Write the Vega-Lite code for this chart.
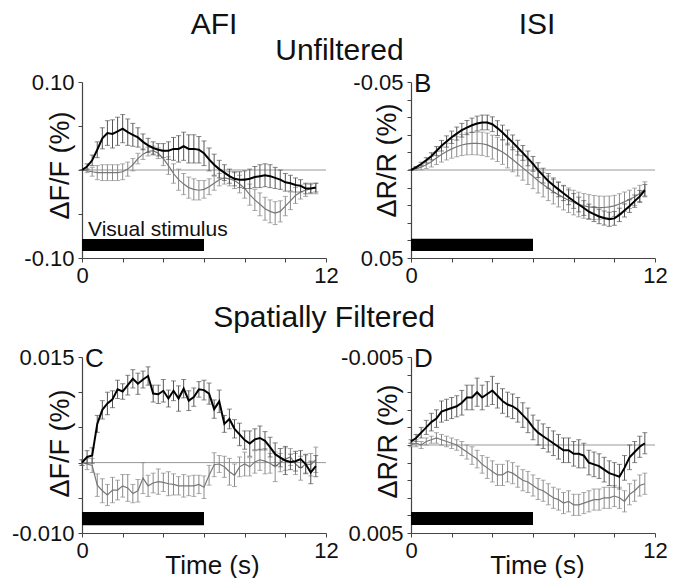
{
  "$schema": "https://vega.github.io/schema/vega-lite/v6.json",
  "padding": {"left": 11, "top": 10, "right": 5, "bottom": 0},
  "background": "white",
  "title": {"text": "Unfiltered", "frame": "bounds", "offset": -56, "anchor": "middle", "dx": 0},
  "columns": 2,
  "bounds": "flush",
  "spacing": {"row": 99, "column": 85},
  "config": {
    "font": "Liberation Sans",
    "view": {"stroke": null},
    "axis": {"grid": false, "domainColor": "#444", "tickColor": "#444", "tickSize": 4, "labelFontSize": 22, "labelColor": "#111", "titleFontSize": 27, "titleFontWeight": "normal", "titleColor": "#111", "labelPadding": 3, "domainWidth": 1.2, "labelFlush": false, "labelOverlap": false},
    "axisY": {"labelPadding": 4, "titleAngle": 270, "titleBaseline": "bottom", "titleAlign": "center"},
    "title": {"fontSize": 30, "fontWeight": "normal", "color": "#111", "frame": "group", "baseline": "alphabetic", "anchor": "middle"}
  },
  "datasets": {
    "A": [
      {"t":0,"gv":0,"ge":0,"kv":0,"ke":0},
      {"t":0.25,"gv":-0.001,"ge":0.002,"kv":0.004,"ke":0.003},
      {"t":0.5,"gv":-0.002,"ge":0.005,"kv":0.011,"ke":0.006},
      {"t":0.75,"gv":-0.003,"ge":0.008,"kv":0.023,"ke":0.009},
      {"t":1,"gv":-0.003,"ge":0.009,"kv":0.036,"ke":0.012},
      {"t":1.25,"gv":-0.003,"ge":0.009,"kv":0.042,"ke":0.014},
      {"t":1.5,"gv":-0.003,"ge":0.009,"kv":0.041,"ke":0.016},
      {"t":1.75,"gv":-0.003,"ge":0.009,"kv":0.044,"ke":0.016},
      {"t":2,"gv":-0.002,"ge":0.009,"kv":0.047,"ke":0.016},
      {"t":2.25,"gv":0.001,"ge":0.008,"kv":0.043,"ke":0.015},
      {"t":2.5,"gv":0.006,"ge":0.007,"kv":0.040,"ke":0.013},
      {"t":2.75,"gv":0.013,"ge":0.006,"kv":0.037,"ke":0.011},
      {"t":3,"gv":0.018,"ge":0.006,"kv":0.032,"ke":0.009},
      {"t":3.25,"gv":0.021,"ge":0.005,"kv":0.028,"ke":0.008},
      {"t":3.5,"gv":0.022,"ge":0.005,"kv":0.025,"ke":0.007},
      {"t":3.75,"gv":0.019,"ge":0.006,"kv":0.023,"ke":0.007},
      {"t":4,"gv":0.013,"ge":0.008,"kv":0.022,"ke":0.008},
      {"t":4.25,"gv":0.005,"ge":0.010,"kv":0.022,"ke":0.010},
      {"t":4.5,"gv":-0.004,"ge":0.011,"kv":0.024,"ke":0.013},
      {"t":4.75,"gv":-0.011,"ge":0.012,"kv":0.024,"ke":0.015},
      {"t":5,"gv":-0.016,"ge":0.012,"kv":0.027,"ke":0.016},
      {"t":5.25,"gv":-0.020,"ge":0.012,"kv":0.024,"ke":0.016},
      {"t":5.5,"gv":-0.022,"ge":0.012,"kv":0.024,"ke":0.016},
      {"t":5.75,"gv":-0.023,"ge":0.011,"kv":0.023,"ke":0.015},
      {"t":6,"gv":-0.022,"ge":0.010,"kv":0.019,"ke":0.014},
      {"t":6.25,"gv":-0.019,"ge":0.009,"kv":0.012,"ke":0.013},
      {"t":6.5,"gv":-0.015,"ge":0.008,"kv":0.006,"ke":0.012},
      {"t":6.75,"gv":-0.011,"ge":0.007,"kv":0.001,"ke":0.010},
      {"t":7,"gv":-0.009,"ge":0.007,"kv":-0.003,"ke":0.009},
      {"t":7.25,"gv":-0.010,"ge":0.008,"kv":-0.007,"ke":0.008},
      {"t":7.5,"gv":-0.012,"ge":0.009,"kv":-0.010,"ke":0.008},
      {"t":7.75,"gv":-0.016,"ge":0.010,"kv":-0.011,"ke":0.009},
      {"t":8,"gv":-0.021,"ge":0.011,"kv":-0.011,"ke":0.010},
      {"t":8.25,"gv":-0.028,"ge":0.012,"kv":-0.010,"ke":0.011},
      {"t":8.5,"gv":-0.034,"ge":0.012,"kv":-0.008,"ke":0.012},
      {"t":8.75,"gv":-0.039,"ge":0.013,"kv":-0.007,"ke":0.013},
      {"t":9,"gv":-0.044,"ge":0.013,"kv":-0.006,"ke":0.013},
      {"t":9.25,"gv":-0.047,"ge":0.013,"kv":-0.007,"ke":0.013},
      {"t":9.5,"gv":-0.049,"ge":0.013,"kv":-0.009,"ke":0.012},
      {"t":9.75,"gv":-0.047,"ge":0.012,"kv":-0.011,"ke":0.011},
      {"t":10,"gv":-0.041,"ge":0.011,"kv":-0.014,"ke":0.010},
      {"t":10.25,"gv":-0.035,"ge":0.010,"kv":-0.015,"ke":0.009},
      {"t":10.5,"gv":-0.029,"ge":0.009,"kv":-0.017,"ke":0.008},
      {"t":10.75,"gv":-0.025,"ge":0.008,"kv":-0.018,"ke":0.007},
      {"t":11,"gv":-0.023,"ge":0.007,"kv":-0.021,"ke":0.006},
      {"t":11.25,"gv":-0.021,"ge":0.006,"kv":-0.021,"ke":0.005},
      {"t":11.5,"gv":-0.021,"ge":0.006,"kv":-0.020,"ke":0.005}
    ],
    "B": [
      {"t":0,"gv":0,"ge":0,"kv":0,"ke":0},
      {"t":0.25,"gv":-0.0007,"ge":0.0008,"kv":-0.0015,"ke":0.0005},
      {"t":0.5,"gv":-0.0016,"ge":0.0015,"kv":-0.0034,"ke":0.001},
      {"t":0.75,"gv":-0.003,"ge":0.0022,"kv":-0.0055,"ke":0.0015},
      {"t":1,"gv":-0.0047,"ge":0.003,"kv":-0.0078,"ke":0.002},
      {"t":1.25,"gv":-0.0068,"ge":0.0037,"kv":-0.0108,"ke":0.0025},
      {"t":1.5,"gv":-0.0088,"ge":0.0043,"kv":-0.0138,"ke":0.003},
      {"t":1.75,"gv":-0.0105,"ge":0.0048,"kv":-0.0162,"ke":0.0032},
      {"t":2,"gv":-0.012,"ge":0.0053,"kv":-0.0186,"ke":0.0035},
      {"t":2.25,"gv":-0.0132,"ge":0.0057,"kv":-0.0207,"ke":0.0037},
      {"t":2.5,"gv":-0.0142,"ge":0.006,"kv":-0.0226,"ke":0.0039},
      {"t":2.75,"gv":-0.0148,"ge":0.0062,"kv":-0.0241,"ke":0.004},
      {"t":3,"gv":-0.0151,"ge":0.0064,"kv":-0.0254,"ke":0.0041},
      {"t":3.25,"gv":-0.0151,"ge":0.0065,"kv":-0.0264,"ke":0.0042},
      {"t":3.5,"gv":-0.0149,"ge":0.0066,"kv":-0.027,"ke":0.0042},
      {"t":3.75,"gv":-0.0143,"ge":0.0067,"kv":-0.027,"ke":0.0042},
      {"t":4,"gv":-0.013,"ge":0.0068,"kv":-0.026,"ke":0.0042},
      {"t":4.25,"gv":-0.0117,"ge":0.0069,"kv":-0.0238,"ke":0.0042},
      {"t":4.5,"gv":-0.0102,"ge":0.007,"kv":-0.0213,"ke":0.0042},
      {"t":4.75,"gv":-0.0082,"ge":0.007,"kv":-0.0185,"ke":0.0042},
      {"t":5,"gv":-0.006,"ge":0.007,"kv":-0.0157,"ke":0.0042},
      {"t":5.25,"gv":-0.0036,"ge":0.007,"kv":-0.0127,"ke":0.0042},
      {"t":5.5,"gv":-0.0012,"ge":0.007,"kv":-0.0097,"ke":0.0042},
      {"t":5.75,"gv":0.0012,"ge":0.007,"kv":-0.0066,"ke":0.0042},
      {"t":6,"gv":0.0036,"ge":0.007,"kv":-0.0035,"ke":0.0042},
      {"t":6.25,"gv":0.0061,"ge":0.007,"kv":0.0001,"ke":0.0042},
      {"t":6.5,"gv":0.0083,"ge":0.007,"kv":0.0032,"ke":0.0042},
      {"t":6.75,"gv":0.0104,"ge":0.007,"kv":0.0062,"ke":0.0042},
      {"t":7,"gv":0.0123,"ge":0.007,"kv":0.0087,"ke":0.0042},
      {"t":7.25,"gv":0.014,"ge":0.007,"kv":0.011,"ke":0.0042},
      {"t":7.5,"gv":0.0157,"ge":0.007,"kv":0.0132,"ke":0.0042},
      {"t":7.75,"gv":0.0172,"ge":0.007,"kv":0.0155,"ke":0.0042},
      {"t":8,"gv":0.0185,"ge":0.007,"kv":0.0176,"ke":0.0042},
      {"t":8.25,"gv":0.0196,"ge":0.007,"kv":0.0196,"ke":0.0042},
      {"t":8.5,"gv":0.0204,"ge":0.007,"kv":0.0216,"ke":0.0042},
      {"t":8.75,"gv":0.021,"ge":0.007,"kv":0.0236,"ke":0.0042},
      {"t":9,"gv":0.0213,"ge":0.0068,"kv":0.0251,"ke":0.0042},
      {"t":9.25,"gv":0.0214,"ge":0.0066,"kv":0.0264,"ke":0.0041},
      {"t":9.5,"gv":0.0213,"ge":0.0064,"kv":0.0273,"ke":0.004},
      {"t":9.75,"gv":0.021,"ge":0.0062,"kv":0.028,"ke":0.004},
      {"t":10,"gv":0.0204,"ge":0.006,"kv":0.0275,"ke":0.0039},
      {"t":10.25,"gv":0.0193,"ge":0.0058,"kv":0.0255,"ke":0.0038},
      {"t":10.5,"gv":0.018,"ge":0.0055,"kv":0.023,"ke":0.0037},
      {"t":10.75,"gv":0.0167,"ge":0.0052,"kv":0.0205,"ke":0.0036},
      {"t":11,"gv":0.0152,"ge":0.0049,"kv":0.0177,"ke":0.0035},
      {"t":11.25,"gv":0.0133,"ge":0.0046,"kv":0.015,"ke":0.0034},
      {"t":11.5,"gv":0.011,"ge":0.0043,"kv":0.0115,"ke":0.0033}
    ],
    "C": [
      {"t":0,"gv":0,"ge":0.0004,"kv":0,"ke":0.0004},
      {"t":0.25,"gv":-0.0002,"ge":0.0008,"kv":0.0008,"ke":0.0009},
      {"t":0.5,"gv":-0.0004,"ge":0.001,"kv":0.001,"ke":0.0011},
      {"t":0.75,"gv":-0.0032,"ge":0.0016,"kv":0.0055,"ke":0.0012},
      {"t":1,"gv":-0.004,"ge":0.0017,"kv":0.0075,"ke":0.0013},
      {"t":1.25,"gv":-0.0046,"ge":0.0015,"kv":0.0084,"ke":0.0016},
      {"t":1.5,"gv":-0.0039,"ge":0.0018,"kv":0.009,"ke":0.0012},
      {"t":1.75,"gv":-0.0039,"ge":0.0014,"kv":0.0104,"ke":0.0013},
      {"t":2,"gv":-0.0033,"ge":0.0016,"kv":0.0101,"ke":0.0011},
      {"t":2.25,"gv":-0.0036,"ge":0.0019,"kv":0.011,"ke":0.0014},
      {"t":2.5,"gv":-0.0044,"ge":0.0013,"kv":0.0119,"ke":0.0013},
      {"t":2.75,"gv":-0.004,"ge":0.0016,"kv":0.0112,"ke":0.0015},
      {"t":3,"gv":-0.0022,"ge":0.0022,"kv":0.0118,"ke":0.0012},
      {"t":3.25,"gv":-0.0033,"ge":0.0015,"kv":0.0123,"ke":0.0013},
      {"t":3.5,"gv":-0.0029,"ge":0.0014,"kv":0.0098,"ke":0.0012},
      {"t":3.75,"gv":-0.0027,"ge":0.0018,"kv":0.0097,"ke":0.0013},
      {"t":4,"gv":-0.0028,"ge":0.0013,"kv":0.0102,"ke":0.0016},
      {"t":4.25,"gv":-0.003,"ge":0.0017,"kv":0.0091,"ke":0.0012},
      {"t":4.5,"gv":-0.0031,"ge":0.0015,"kv":0.0102,"ke":0.0014},
      {"t":4.75,"gv":-0.0033,"ge":0.0013,"kv":0.0091,"ke":0.0018},
      {"t":5,"gv":-0.0033,"ge":0.0016,"kv":0.0105,"ke":0.0013},
      {"t":5.25,"gv":-0.0033,"ge":0.0014,"kv":0.0088,"ke":0.0014},
      {"t":5.5,"gv":-0.0033,"ge":0.0015,"kv":0.0093,"ke":0.0013},
      {"t":5.75,"gv":-0.0031,"ge":0.0013,"kv":0.0104,"ke":0.0011},
      {"t":6,"gv":-0.0035,"ge":0.0016,"kv":0.0103,"ke":0.0014},
      {"t":6.25,"gv":-0.0018,"ge":0.0014,"kv":0.0098,"ke":0.0015},
      {"t":6.5,"gv":-0.0003,"ge":0.0017,"kv":0.0076,"ke":0.0013},
      {"t":6.75,"gv":-0.0002,"ge":0.0012,"kv":0.0087,"ke":0.0016},
      {"t":7,"gv":-0.0006,"ge":0.0015,"kv":0.0055,"ke":0.0012},
      {"t":7.25,"gv":-0.0013,"ge":0.0019,"kv":0.0062,"ke":0.0014},
      {"t":7.5,"gv":-0.0018,"ge":0.0016,"kv":0.0048,"ke":0.0013},
      {"t":7.75,"gv":-0.0006,"ge":0.0014,"kv":0.004,"ke":0.0016},
      {"t":8,"gv":-0.0002,"ge":0.0017,"kv":0.0032,"ke":0.0013},
      {"t":8.25,"gv":-0.0006,"ge":0.0013,"kv":0.0027,"ke":0.0018},
      {"t":8.5,"gv":0.0001,"ge":0.0016,"kv":0.0033,"ke":0.0015},
      {"t":8.75,"gv":0.0004,"ge":0.0015,"kv":0.0035,"ke":0.0017},
      {"t":9,"gv":0.0002,"ge":0.0018,"kv":0.0031,"ke":0.0013},
      {"t":9.25,"gv":-0.0001,"ge":0.0014,"kv":0.0022,"ke":0.0014},
      {"t":9.5,"gv":-0.0006,"ge":0.0021,"kv":0.0012,"ke":0.0016},
      {"t":9.75,"gv":0,"ge":0.0013,"kv":0.0007,"ke":0.0013},
      {"t":10,"gv":0.0005,"ge":0.0016,"kv":0.0003,"ke":0.002},
      {"t":10.25,"gv":0.0008,"ge":0.0012,"kv":0.0001,"ke":0.0011},
      {"t":10.5,"gv":-0.0002,"ge":0.0015,"kv":0.0002,"ke":0.0014},
      {"t":10.75,"gv":-0.0008,"ge":0.0017,"kv":0.0005,"ke":0.0012},
      {"t":11,"gv":-0.0002,"ge":0.0014,"kv":-0.0002,"ke":0.0013},
      {"t":11.25,"gv":-0.0003,"ge":0.0016,"kv":-0.0014,"ke":0.0016},
      {"t":11.5,"gv":0.0004,"ge":0.0018,"kv":-0.0005,"ke":0.0015}
    ],
    "D": [
      {"t":0,"gv":0,"ge":0.0001,"kv":-0.0002,"ke":0.0001},
      {"t":0.25,"gv":-0.0001,"ge":0.0002,"kv":-0.0004,"ke":0.0002},
      {"t":0.5,"gv":0,"ge":0.0002,"kv":-0.0007,"ke":0.0003},
      {"t":0.75,"gv":-0.0002,"ge":0.0002,"kv":-0.001,"ke":0.0004},
      {"t":1,"gv":-0.0003,"ge":0.0002,"kv":-0.0013,"ke":0.0005},
      {"t":1.25,"gv":-0.0004,"ge":0.0003,"kv":-0.0015,"ke":0.0005},
      {"t":1.5,"gv":-0.0003,"ge":0.0003,"kv":-0.0019,"ke":0.0006},
      {"t":1.75,"gv":-0.0002,"ge":0.0003,"kv":-0.002,"ke":0.0006},
      {"t":2,"gv":-0.0001,"ge":0.0003,"kv":-0.0021,"ke":0.0006},
      {"t":2.25,"gv":0,"ge":0.0003,"kv":-0.0022,"ke":0.0006},
      {"t":2.5,"gv":0.0002,"ge":0.0004,"kv":-0.0024,"ke":0.0007},
      {"t":2.75,"gv":0.0004,"ge":0.0004,"kv":-0.0027,"ke":0.0007},
      {"t":3,"gv":0.0006,"ge":0.0005,"kv":-0.0027,"ke":0.0007},
      {"t":3.25,"gv":0.0008,"ge":0.0005,"kv":-0.003,"ke":0.0008},
      {"t":3.5,"gv":0.0011,"ge":0.0005,"kv":-0.0027,"ke":0.0007},
      {"t":3.75,"gv":0.0013,"ge":0.0006,"kv":-0.0029,"ke":0.0007},
      {"t":4,"gv":0.0015,"ge":0.0006,"kv":-0.0031,"ke":0.0008},
      {"t":4.25,"gv":0.0017,"ge":0.0006,"kv":-0.0028,"ke":0.0007},
      {"t":4.5,"gv":0.0017,"ge":0.0006,"kv":-0.0025,"ke":0.0007},
      {"t":4.75,"gv":0.0015,"ge":0.0006,"kv":-0.0023,"ke":0.0007},
      {"t":5,"gv":0.0016,"ge":0.0006,"kv":-0.0022,"ke":0.0007},
      {"t":5.25,"gv":0.0018,"ge":0.0006,"kv":-0.002,"ke":0.0007},
      {"t":5.5,"gv":0.002,"ge":0.0006,"kv":-0.0017,"ke":0.0007},
      {"t":5.75,"gv":0.0021,"ge":0.0006,"kv":-0.0014,"ke":0.0007},
      {"t":6,"gv":0.0023,"ge":0.0006,"kv":-0.001,"ke":0.0007},
      {"t":6.25,"gv":0.0025,"ge":0.0006,"kv":-0.0007,"ke":0.0007},
      {"t":6.5,"gv":0.0026,"ge":0.0006,"kv":-0.0005,"ke":0.0007},
      {"t":6.75,"gv":0.0028,"ge":0.0006,"kv":-0.0003,"ke":0.0007},
      {"t":7,"gv":0.003,"ge":0.0006,"kv":-0.0001,"ke":0.0007},
      {"t":7.25,"gv":0.0031,"ge":0.0006,"kv":0.0001,"ke":0.0007},
      {"t":7.5,"gv":0.0033,"ge":0.0006,"kv":0.0003,"ke":0.0007},
      {"t":7.75,"gv":0.0032,"ge":0.0006,"kv":0.0003,"ke":0.0007},
      {"t":8,"gv":0.0034,"ge":0.0006,"kv":0.0005,"ke":0.0007},
      {"t":8.25,"gv":0.0034,"ge":0.0006,"kv":0.0005,"ke":0.0008},
      {"t":8.5,"gv":0.0033,"ge":0.0006,"kv":0.0006,"ke":0.0007},
      {"t":8.75,"gv":0.0032,"ge":0.0006,"kv":0.001,"ke":0.0007},
      {"t":9,"gv":0.0031,"ge":0.0006,"kv":0.0011,"ke":0.0007},
      {"t":9.25,"gv":0.0031,"ge":0.0006,"kv":0.0012,"ke":0.0007},
      {"t":9.5,"gv":0.003,"ge":0.0006,"kv":0.0014,"ke":0.0007},
      {"t":9.75,"gv":0.003,"ge":0.0006,"kv":0.0016,"ke":0.0007},
      {"t":10,"gv":0.0029,"ge":0.0006,"kv":0.0017,"ke":0.0007},
      {"t":10.25,"gv":0.003,"ge":0.0006,"kv":0.0018,"ke":0.0007},
      {"t":10.5,"gv":0.0032,"ge":0.0006,"kv":0.0013,"ke":0.0007},
      {"t":10.75,"gv":0.0028,"ge":0.0006,"kv":0.0007,"ke":0.0007},
      {"t":11,"gv":0.0026,"ge":0.0006,"kv":0.0004,"ke":0.0006},
      {"t":11.25,"gv":0.0023,"ge":0.0006,"kv":0.0001,"ke":0.0006},
      {"t":11.5,"gv":0.0022,"ge":0.0006,"kv":-0.0001,"ke":0.0006}
    ]
  },
  "concat": [
    {
      "width": 244, "height": 176,
      "title": {"text": "AFI", "offset": 31, "dx": 10},
      "data": {"name": "A"},
      "encoding": {
        "x": {"field": "t", "type": "quantitative", "scale": {"domain": [0, 12], "nice": false, "zero": false},
              "axis": {"values": [0,2,4,6,8,10,12], "labelExpr": "datum.value == 0 || datum.value == 12 ? datum.label : ''", "title": null}},
        "y": {"field": "kv", "type": "quantitative", "scale": {"domain": [-0.1, 0.1], "nice": false, "zero": false},
              "axis": {"values": [-0.1,-0.05,0,0.05,0.1], "labelExpr": "datum.value > 0.09 ? '0.10' : datum.value < -0.09 ? '-0.10' : ''", "title": "ΔF/F (%)", "titleX": -8, "titleY": 83}}
      },
      "layer": [
        {"transform": [{"filter": "datum.t == 0"}], "mark": {"type": "rule", "color": "#999", "strokeWidth": 1}, "encoding": {"x": {"datum": 0}, "x2": {"datum": 12}, "y": {"datum": 0}}},
        {"transform": [{"filter": "datum.t == 0"}], "mark": {"type": "rect", "color": "#000"}, "encoding": {"x": {"datum": 0}, "x2": {"datum": 6}, "y": {"datum": -0.0784}, "y2": {"datum": -0.092}}},
        {"transform": [{"filter": "datum.t == 0"}], "mark": {"type": "text", "text": "Visual stimulus", "fontSize": 21, "align": "left", "baseline": "alphabetic", "dx": 6, "color": "#111"}, "encoding": {"x": {"datum": 0}, "y": {"datum": -0.075}}},
        {"mark": {"type": "errorbar", "ticks": {"size": 5}, "color": "#8a8a8a", "thickness": 1}, "encoding": {"y": {"field": "gv", "type": "quantitative", "scale": {"domain": [-0.1, 0.1], "nice": false, "zero": false}}, "yError": {"field": "ge"}}},
        {"mark": {"type": "line", "color": "#777", "strokeWidth": 1.2}, "encoding": {"y": {"field": "gv", "type": "quantitative", "scale": {"domain": [-0.1, 0.1], "nice": false, "zero": false}}}},
        {"mark": {"type": "errorbar", "ticks": {"size": 5}, "color": "#555", "thickness": 1}, "encoding": {"yError": {"field": "ke"}}},
        {"mark": {"type": "line", "color": "#000", "strokeWidth": 2}}
      ]
    },
    {
      "width": 244, "height": 176,
      "title": {"text": "ISI", "offset": 31, "dx": 4},
      "data": {"name": "B"},
      "encoding": {
        "x": {"field": "t", "type": "quantitative", "scale": {"domain": [0, 12], "nice": false, "zero": false},
              "axis": {"values": [0,2,4,6,8,10,12], "labelExpr": "datum.value == 0 || datum.value == 12 ? datum.label : ''", "title": null}},
        "y": {"field": "kv", "type": "quantitative", "scale": {"domain": [-0.05, 0.05], "nice": false, "zero": false, "reverse": true},
              "axis": {"values": [-0.05,-0.04,-0.03,-0.02,-0.01,0,0.01,0.02,0.03,0.04,0.05], "labelExpr": "datum.value < -0.045 ? '-0.05' : datum.value > 0.045 ? '0.05' : ''", "title": "ΔR/R (%)", "titleX": -10, "titleY": 78}}
      },
      "layer": [
        {"transform": [{"filter": "datum.t == 0"}], "mark": {"type": "rule", "color": "#999", "strokeWidth": 1}, "encoding": {"x": {"datum": 0}, "x2": {"datum": 12}, "y": {"datum": 0}}},
        {"transform": [{"filter": "datum.t == 0"}], "mark": {"type": "rect", "color": "#000"}, "encoding": {"x": {"datum": 0}, "x2": {"datum": 6}, "y": {"datum": 0.0391}, "y2": {"datum": 0.046}}},
        {"transform": [{"filter": "datum.t == 0"}], "mark": {"type": "text", "text": "B", "fontSize": 26, "align": "left", "baseline": "middle", "dx": 3, "dy": 2, "color": "#111"}, "encoding": {"x": {"datum": 0}, "y": {"datum": -0.05}}},
        {"mark": {"type": "errorbar", "ticks": {"size": 5}, "color": "#8a8a8a", "thickness": 1}, "encoding": {"y": {"field": "gv", "type": "quantitative", "scale": {"domain": [-0.05, 0.05], "nice": false, "zero": false, "reverse": true}}, "yError": {"field": "ge"}}},
        {"mark": {"type": "line", "color": "#777", "strokeWidth": 1.2}, "encoding": {"y": {"field": "gv", "type": "quantitative", "scale": {"domain": [-0.05, 0.05], "nice": false, "zero": false, "reverse": true}}}},
        {"mark": {"type": "errorbar", "ticks": {"size": 5}, "color": "#555", "thickness": 1}, "encoding": {"yError": {"field": "ke"}}},
        {"mark": {"type": "line", "color": "#000", "strokeWidth": 2}}
      ]
    },
    {
      "width": 244, "height": 176,
      "title": {"text": "Spatially Filtered", "offset": 13, "dx": 120},
      "data": {"name": "C"},
      "encoding": {
        "x": {"field": "t", "type": "quantitative", "scale": {"domain": [0, 12], "nice": false, "zero": false},
              "axis": {"values": [0,2,4,6,8,10,12], "labelExpr": "datum.value == 0 || datum.value == 12 ? datum.label : ''", "title": "Time (s)", "titleFontSize": 26, "titleX": 130, "titleY": 40, "titleBaseline": "alphabetic", "titleAlign": "center"}},
        "y": {"field": "kv", "type": "quantitative", "scale": {"domain": [-0.01, 0.015], "nice": false, "zero": false},
              "axis": {"values": [-0.01,-0.005,0,0.005,0.01,0.015], "labelExpr": "datum.value > 0.014 ? '0.015' : datum.value < -0.009 ? '-0.010' : ''", "title": "ΔF/F (%)", "titleX": -8, "titleY": 86}}
      },
      "layer": [
        {"transform": [{"filter": "datum.t == 0"}], "mark": {"type": "rule", "color": "#999", "strokeWidth": 1}, "encoding": {"x": {"datum": 0}, "x2": {"datum": 12}, "y": {"datum": 0}}},
        {"transform": [{"filter": "datum.t == 0"}], "mark": {"type": "rect", "color": "#000"}, "encoding": {"x": {"datum": 0}, "x2": {"datum": 6}, "y": {"datum": -0.007}, "y2": {"datum": -0.0089}}},
        {"transform": [{"filter": "datum.t == 0"}], "mark": {"type": "text", "text": "C", "fontSize": 26, "align": "left", "baseline": "middle", "dx": 3, "dy": 2, "color": "#111"}, "encoding": {"x": {"datum": 0}, "y": {"datum": 0.015}}},
        {"mark": {"type": "errorbar", "ticks": {"size": 5}, "color": "#8a8a8a", "thickness": 1}, "encoding": {"y": {"field": "gv", "type": "quantitative", "scale": {"domain": [-0.01, 0.015], "nice": false, "zero": false}}, "yError": {"field": "ge"}}},
        {"mark": {"type": "line", "color": "#777", "strokeWidth": 1.2}, "encoding": {"y": {"field": "gv", "type": "quantitative", "scale": {"domain": [-0.01, 0.015], "nice": false, "zero": false}}}},
        {"mark": {"type": "errorbar", "ticks": {"size": 5}, "color": "#555", "thickness": 1}, "encoding": {"yError": {"field": "ke"}}},
        {"mark": {"type": "line", "color": "#000", "strokeWidth": 2}}
      ]
    },
    {
      "width": 244, "height": 176,
      "data": {"name": "D"},
      "encoding": {
        "x": {"field": "t", "type": "quantitative", "scale": {"domain": [0, 12], "nice": false, "zero": false},
              "axis": {"values": [0,2,4,6,8,10,12], "labelExpr": "datum.value == 0 || datum.value == 12 ? datum.label : ''", "title": "Time (s)", "titleFontSize": 26, "titleX": 126, "titleY": 40, "titleBaseline": "alphabetic", "titleAlign": "center"}},
        "y": {"field": "kv", "type": "quantitative", "scale": {"domain": [-0.005, 0.005], "nice": false, "zero": false, "reverse": true},
              "axis": {"values": [-0.005,-0.004,-0.003,-0.002,-0.001,0,0.001,0.002,0.003,0.004,0.005], "labelExpr": "datum.value < -0.0045 ? '-0.005' : datum.value > 0.0045 ? '0.005' : ''", "title": "ΔR/R (%)", "titleX": -9, "titleY": 84}}
      },
      "layer": [
        {"transform": [{"filter": "datum.t == 0"}], "mark": {"type": "rule", "color": "#999", "strokeWidth": 1}, "encoding": {"x": {"datum": 0}, "x2": {"datum": 12}, "y": {"datum": 0}}},
        {"transform": [{"filter": "datum.t == 0"}], "mark": {"type": "rect", "color": "#000"}, "encoding": {"x": {"datum": 0}, "x2": {"datum": 6}, "y": {"datum": 0.0038}, "y2": {"datum": 0.00455}}},
        {"transform": [{"filter": "datum.t == 0"}], "mark": {"type": "text", "text": "D", "fontSize": 26, "align": "left", "baseline": "middle", "dx": 3, "dy": 2, "color": "#111"}, "encoding": {"x": {"datum": 0}, "y": {"datum": -0.005}}},
        {"mark": {"type": "errorbar", "ticks": {"size": 5}, "color": "#8a8a8a", "thickness": 1}, "encoding": {"y": {"field": "gv", "type": "quantitative", "scale": {"domain": [-0.005, 0.005], "nice": false, "zero": false, "reverse": true}}, "yError": {"field": "ge"}}},
        {"mark": {"type": "line", "color": "#777", "strokeWidth": 1.2}, "encoding": {"y": {"field": "gv", "type": "quantitative", "scale": {"domain": [-0.005, 0.005], "nice": false, "zero": false, "reverse": true}}}},
        {"mark": {"type": "errorbar", "ticks": {"size": 5}, "color": "#555", "thickness": 1}, "encoding": {"yError": {"field": "ke"}}},
        {"mark": {"type": "line", "color": "#000", "strokeWidth": 2}}
      ]
    }
  ]
}
